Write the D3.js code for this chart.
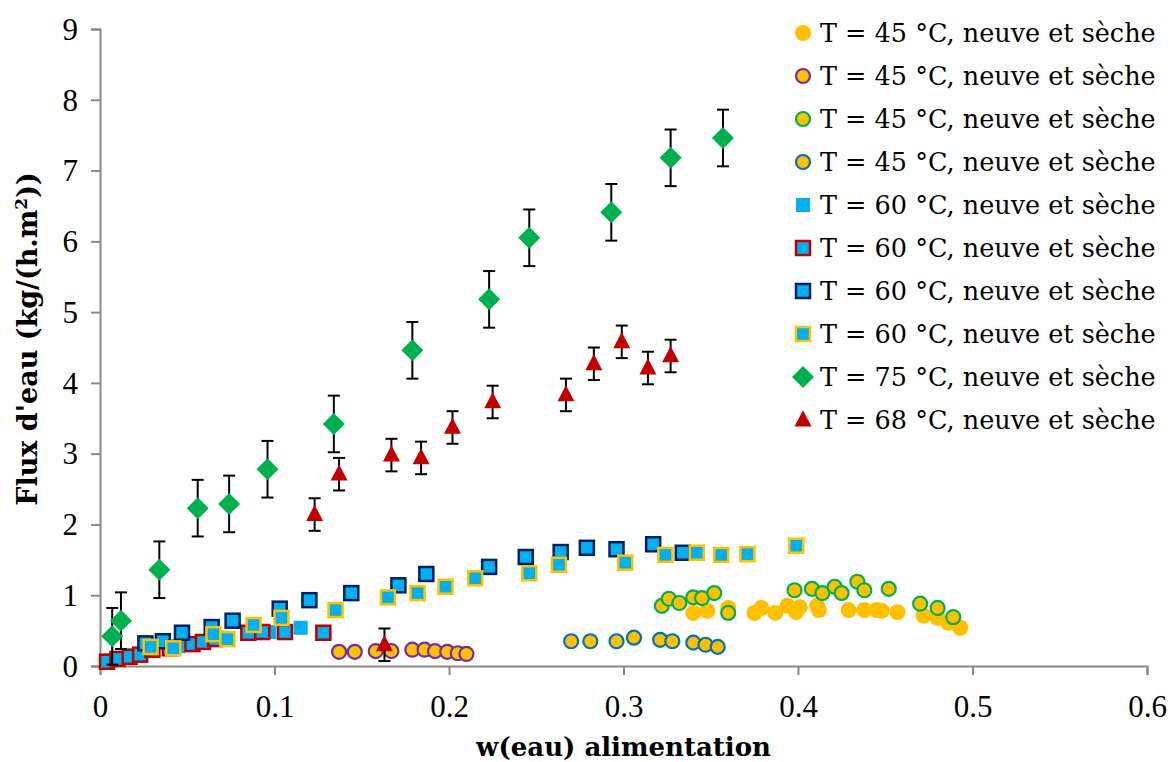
<!DOCTYPE html>
<html><head><meta charset="utf-8">
<script src="https://cdn.jsdelivr.net/npm/d3@7"></script>
<style>body{margin:0;background:#fff}svg{display:block}</style>
</head><body>
<svg id="c" width="1175" height="762"></svg>
<script>
// ---- data ----
const xTicks = [0, 0.1, 0.2, 0.3, 0.4, 0.5, 0.6];
const yTicks = [0, 1, 2, 3, 4, 5, 6, 7, 8, 9];
const legendLabels = [
  "T = 45 °C, neuve et sèche","T = 45 °C, neuve et sèche","T = 45 °C, neuve et sèche","T = 45 °C, neuve et sèche",
  "T = 60 °C, neuve et sèche","T = 60 °C, neuve et sèche","T = 60 °C, neuve et sèche","T = 60 °C, neuve et sèche",
  "T = 75 °C, neuve et sèche","T = 68 °C, neuve et sèche"];

const s1x = [0.340,0.348,0.360,0.375,0.379,0.387,0.394,0.399,0.401,0.411,0.412,0.429,0.438,0.445,0.448,0.457,0.472,0.480,0.486,0.493];
const s1y = [0.75,0.78,0.82,0.75,0.82,0.75,0.85,0.76,0.83,0.85,0.79,0.79,0.79,0.79,0.78,0.76,0.71,0.68,0.61,0.54];
const s2x = [0.137,0.146,0.158,0.167,0.179,0.186,0.192,0.199,0.205,0.210];
const s2y = [0.20,0.20,0.21,0.21,0.23,0.23,0.21,0.20,0.18,0.17];
const s3x = [0.322,0.326,0.332,0.340,0.345,0.352,0.360,0.398,0.408,0.414,0.421,0.425,0.434,0.438,0.452,0.470,0.480,0.489];
const s3y = [0.85,0.95,0.89,0.97,0.96,1.03,0.75,1.07,1.09,1.03,1.12,1.03,1.19,1.07,1.09,0.88,0.82,0.69];
const s4x = [0.270,0.281,0.296,0.306,0.321,0.328,0.340,0.347,0.354];
const s4y = [0.35,0.35,0.35,0.40,0.37,0.35,0.33,0.30,0.27];
const s5x = [0.006,0.020,0.045,0.070,0.097,0.115];
const s5y = [0.08,0.15,0.28,0.40,0.48,0.54];
const s6x = [0.004,0.010,0.017,0.023,0.030,0.040,0.053,0.059,0.066,0.085,0.093,0.106,0.128];
const s6y = [0.06,0.10,0.13,0.16,0.23,0.25,0.31,0.34,0.38,0.47,0.48,0.48,0.47];
const s7x = [0.026,0.036,0.047,0.064,0.076,0.103,0.120,0.144,0.171,0.187,0.223,0.244,0.264,0.279,0.296,0.317,0.334];
const s7y = [0.32,0.35,0.47,0.55,0.64,0.81,0.93,1.03,1.14,1.30,1.40,1.54,1.61,1.67,1.65,1.72,1.60];
const s8x = [0.029,0.042,0.065,0.073,0.088,0.104,0.135,0.165,0.182,0.198,0.215,0.246,0.263,0.301,0.324,0.342,0.356,0.371,0.399];
const s8y = [0.27,0.25,0.45,0.38,0.58,0.68,0.79,0.97,1.03,1.12,1.24,1.31,1.43,1.46,1.57,1.60,1.57,1.58,1.70];
const s9x = [0.007,0.012,0.034,0.056,0.074,0.096,0.134,0.179,0.223,0.246,0.293,0.327,0.357];
const s9y = [0.42,0.64,1.36,2.23,2.29,2.78,3.42,4.46,5.18,6.05,6.41,7.18,7.46];
const s9err = [0.4,0.4,0.4,0.4,0.4,0.4,0.4,0.4,0.4,0.4,0.4,0.4,0.4];
const s10x = [0.123,0.137,0.163,0.167,0.184,0.202,0.225,0.267,0.283,0.299,0.314,0.327];
const s10y = [2.14,2.71,0.30,2.98,2.94,3.37,3.73,3.83,4.27,4.58,4.21,4.38];
const s10err = [0.23,0.23,0.23,0.23,0.23,0.23,0.23,0.23,0.23,0.23,0.23,0.23];

// ---- styles ----
const series = [
  {x:s1x,y:s1y,shape:"circle",fill:"#FFC000",stroke:"none"},
  {x:s2x,y:s2y,shape:"circle",fill:"#FFC000",stroke:"#7030A0"},
  {x:s3x,y:s3y,shape:"circle",fill:"#FFC000",stroke:"#00B050"},
  {x:s4x,y:s4y,shape:"circle",fill:"#FFC000",stroke:"#0070C0"},
  {x:s5x,y:s5y,shape:"square",fill:"#00B0F0",stroke:"none"},
  {x:s6x,y:s6y,shape:"square",fill:"#00B0F0",stroke:"#C00000"},
  {x:s7x,y:s7y,shape:"square",fill:"#00B0F0",stroke:"#002060"},
  {x:s8x,y:s8y,shape:"square",fill:"#00B0F0",stroke:"#FFC000"},
  {x:s9x,y:s9y,err:s9err,shape:"diamond",fill:"#00B050",stroke:"none"},
  {x:s10x,y:s10y,err:s10err,shape:"triangle",fill:"#C00000",stroke:"none"}
];

const svg = d3.select("#c");
const L=100, R=1147, T=29, B=666;
const x = d3.scaleLinear().domain([0,0.6]).range([L,R]);
const y = d3.scaleLinear().domain([0,9]).range([B,T]);
const font = "'DejaVu Serif', serif";
const tickFont = "'Liberation Serif', serif";
const axisColor = "#898989";

// axes
const gx = svg.append("g").attr("transform",`translate(0,${B})`)
  .call(d3.axisBottom(x).tickValues(xTicks).tickFormat(d=>d===0?"0":d3.format(".1f")(d)).tickSize(9));
const gy = svg.append("g").attr("transform",`translate(${L},0)`)
  .call(d3.axisLeft(y).tickValues(yTicks).tickFormat(d3.format("d")).tickSize(9));
[gx,gy].forEach(g=>{
  g.select(".domain").attr("stroke",axisColor).attr("stroke-width",2);
  g.selectAll(".tick line").attr("stroke",axisColor).attr("stroke-width",2);
  g.selectAll(".tick text").attr("fill","#000").style("font-family",tickFont).style("font-size","31px");
});
gx.selectAll(".tick text").attr("y",51).attr("dy",0);
gy.selectAll(".tick text").attr("x",-22).attr("dy","0.33em");

// axis titles
svg.append("text").attr("x",(L+R)/2).attr("y",756).attr("text-anchor","middle")
  .style("font-family",font).style("font-size","26px").style("font-weight","bold").text("w(eau) alimentation");
const yt = svg.append("text").attr("transform",`translate(37,339) rotate(-90)`).attr("text-anchor","middle")
  .style("font-family",font).style("font-size","27px").style("font-weight","bold");
yt.append("tspan").text("Flux d'eau (kg/(h.m");
yt.append("tspan").attr("dy","-10").style("font-size","17px").text("2");
yt.append("tspan").attr("dy","10").text("))");

// markers
function drawMarker(g, shape, cx, cy, s){
  if(shape==="circle"){
    return g.append("circle").attr("cx",cx).attr("cy",cy).attr("r",s.stroke==="none"?8:7)
      .attr("fill",s.fill).attr("stroke",s.stroke).attr("stroke-width",2.2);
  }
  if(shape==="square"){
    const h = 7;
    return g.append("rect").attr("x",cx-h).attr("y",cy-h).attr("width",2*h).attr("height",2*h)
      .attr("fill",s.fill).attr("stroke",s.stroke).attr("stroke-width",2.5);
  }
  if(shape==="diamond"){
    const h = 11;
    return g.append("path").attr("d",`M${cx},${cy-h}L${cx+h},${cy}L${cx},${cy+h}L${cx-h},${cy}Z`).attr("fill",s.fill);
  }
  if(shape==="triangle"){
    const h = 8.5;
    return g.append("path").attr("d",`M${cx},${cy-h*1.15}L${cx+h},${cy+h*0.75}L${cx-h},${cy+h*0.75}Z`).attr("fill",s.fill);
  }
}

series.forEach(s=>{
  const g = svg.append("g");
  if(s.err){
    s.x.forEach((xv,i)=>{
      const cx=x(xv), y1=y(s.y[i]+s.err[i]), y0=y(s.y[i]-s.err[i]);
      g.append("line").attr("x1",cx).attr("x2",cx).attr("y1",y1).attr("y2",y0).attr("stroke","#000").attr("stroke-width",2);
      g.append("line").attr("x1",cx-6).attr("x2",cx+6).attr("y1",y1).attr("y2",y1).attr("stroke","#000").attr("stroke-width",2);
      g.append("line").attr("x1",cx-6).attr("x2",cx+6).attr("y1",y0).attr("y2",y0).attr("stroke","#000").attr("stroke-width",2);
    });
  }
  s.x.forEach((xv,i)=>drawMarker(g,s.shape,x(xv),y(s.y[i]),s));
});

// legend
const lg = svg.append("g");
series.forEach((s,i)=>{
  const cy = 33 + i*43;
  drawMarker(lg, s.shape, 803, cy, s);
  lg.append("text").attr("x",820).attr("y",cy).attr("dy","0.36em")
    .style("font-family",font).style("font-size","25.5px").text(legendLabels[i]);
});
</script>
</body></html>
